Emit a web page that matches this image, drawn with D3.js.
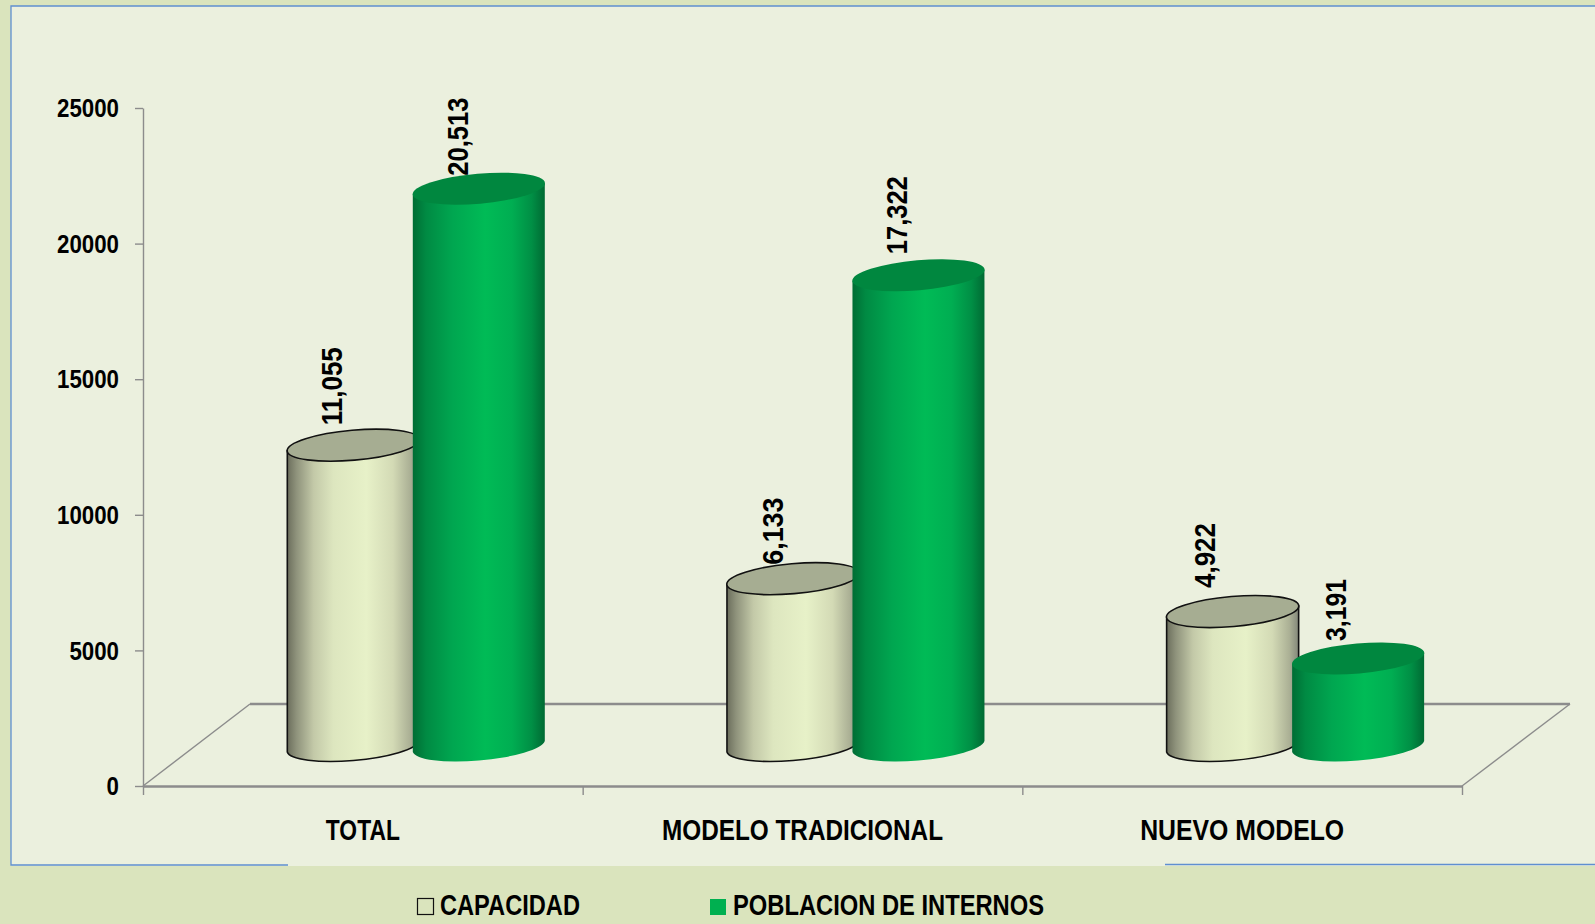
<!DOCTYPE html>
<html><head><meta charset="utf-8">
<script src="https://cdn.jsdelivr.net/npm/d3@7/dist/d3.min.js"></script>
<style>
html,body{margin:0;padding:0;background:#dae4bd;overflow:hidden}
svg{display:block}
text{font-family:"Liberation Sans Narrow","Liberation Sans",sans-serif;font-weight:700;fill:#000}
</style></head><body>
<script>
// ---- data ----
const categories = ["TOTAL", "MODELO TRADICIONAL", "NUEVO MODELO"];
const seriesNames = ["CAPACIDAD", "POBLACION DE INTERNOS"];
const capacidad = [11055, 6133, 4922];
const poblacion = [20513, 17322, 3191];
const yTicks = [0, 5000, 10000, 15000, 20000, 25000];

// ---- layout ----
const W = 1595, H = 924;
const yTop = 108, yBase = 786, xLeft = 143, xRight = 1462;
const depthX = 107, depthY = 82;           // floor parallelogram
const barBaseLift = 41;                    // bars stand mid-way on the floor
const bottomExtra = 1.5;
const barW = 132, capRx = 66.4, capRy = 15, tilt = -5, tanDy = 5.5;
const labelNudge = [[-20,-13],[-14,-21],[-23.5,-17.5]];
const labelDx = [[45,45.5],[46.5,45.5],[39,44.5]];
const labelLen = [[78,78],[67,78],[65,62]];

const svg = d3.select("body").append("svg").attr("width",W).attr("height",H);
const defs = svg.append("defs");
function grad(id, stops){
  const g = defs.append("linearGradient").attr("id",id).attr("x1",0).attr("x2",1).attr("y1",0).attr("y2",0);
  stops.forEach(([o,c])=>g.append("stop").attr("offset",o).attr("stop-color",c));
}
grad("gCap",[[0,"#6b6e5c"],[0.07,"#8f937c"],[0.2,"#c3c9a8"],[0.35,"#dde6bf"],[0.6,"#e7f1c8"],[0.8,"#d3dab5"],[0.93,"#abb095"],[1,"#83877a"]]);
grad("gPob",[[0,"#006d34"],[0.1,"#008a43"],[0.3,"#00a650"],[0.55,"#00bb56"],[0.75,"#00ae52"],[0.9,"#008f45"],[1,"#006a33"]]);

// backgrounds
svg.append("rect").attr("width",W).attr("height",H).attr("fill","#dae4bd");
svg.append("rect").attr("x",11).attr("y",6).attr("width",W-11).attr("height",860).attr("fill","#ebf0de");
const blue = "#5f8fd0";
svg.append("path").attr("fill","none").attr("stroke",blue).attr("stroke-width",1.3)
  .attr("d",d3.line()([[W,6],[11,6],[11,865],[288,865]]));
svg.append("path").attr("fill","none").attr("stroke",blue).attr("stroke-width",1.3)
  .attr("d",d3.line()([[1165,864.5],[W,864.5]]));

// scales
const y = d3.scaleLinear().domain([0,25000]).range([yBase,yTop]);
const x = d3.scaleBand().domain(categories).range([xLeft,xRight]);
const xEdge = d3.scaleLinear().domain([0,3]).range([xLeft,xRight]);
const xSeries = d3.scaleBand().domain(seriesNames).range([144.3,144.3+2*125.5]);
const grey = "#8c8c8c";

// floor
svg.append("path").attr("fill","none").attr("stroke",grey).attr("stroke-width",1.4)
  .attr("d",d3.line()([[xLeft,yBase],[xLeft+depthX,yBase-depthY]]));
svg.append("path").attr("fill","none").attr("stroke",grey).attr("stroke-width",1.4)
  .attr("d",d3.line()([[xRight,yBase],[xRight+depthX+1,yBase-depthY]]));
svg.append("line").attr("x1",xLeft+depthX).attr("x2",xRight+depthX+1).attr("y1",yBase-depthY).attr("y2",yBase-depthY)
  .attr("stroke",grey).attr("stroke-width",2.4);

// y axis
const yAxis = svg.append("g").attr("transform",`translate(${xLeft},0)`)
  .call(d3.axisLeft(y).tickValues(yTicks).tickFormat(d3.format("d")).tickSize(8).tickSizeOuter(0));
yAxis.select(".domain").attr("stroke",grey).attr("stroke-width",1.4);
yAxis.selectAll(".tick line").attr("stroke",grey).attr("stroke-width",1.4);
yAxis.selectAll(".tick text").attr("x",-24).attr("dy","0.35em")
  .attr("textLength",d=>String(d).length*12.4).attr("lengthAdjust","spacingAndGlyphs")
  .style("font-size","25px").style("font-family",'"Liberation Sans Narrow","Liberation Sans",sans-serif');

// x axis: line & ticks at category edges
const xAxisG = svg.append("g").attr("transform",`translate(0,${yBase})`)
  .call(d3.axisBottom(xEdge).tickValues([0,1,2,3]).tickFormat("").tickSize(9).tickSizeOuter(0));
xAxisG.select(".domain").attr("stroke",grey).attr("stroke-width",2.4);
xAxisG.selectAll(".tick line").attr("stroke",grey).attr("stroke-width",1.4);

// category labels
const catLen = [74,281,204];
svg.append("g").selectAll("text").data(categories).join("text")
  .attr("x",d=>x(d)+x.bandwidth()/2).attr("y",840).attr("text-anchor","middle")
  .attr("font-size",29).attr("textLength",(d,i)=>catLen[i]).attr("lengthAdjust","spacingAndGlyphs").text(d=>d);

// marks
const rows = [];
categories.forEach((c,i)=>{
  rows.push({c,i,s:0,v:capacidad[i],grad:"gCap",top:"#a6ad92",stroke:"#111"});
  rows.push({c,i,s:1,v:poblacion[i],grad:"gPob",top:"#00873f",stroke:"none"});
});
const fmt = d3.format(",");
const left = d => x(d.c)+xSeries(seriesNames[d.s]);
const topY = d => y(d.v)-barBaseLift;
const botY = y(0)-barBaseLift+bottomExtra;

// data labels sit behind the cylinders
svg.append("g").selectAll("text").data(rows).join("text")
  .attr("transform",d=>`translate(${x(d.c)+xSeries(seriesNames[d.s])+labelDx[d.i][d.s]+9.5},${topY(d)+labelNudge[d.i][d.s]}) rotate(-90)`)
  .attr("font-size",29)
  .attr("textLength",d=>labelLen[d.i][d.s]).attr("lengthAdjust","spacingAndGlyphs")
  .text(d=>fmt(d.v));

const cyl = svg.append("g").selectAll("g").data(rows).join("g");
cyl.append("path")
  .attr("fill",d=>`url(#${d.grad})`).attr("stroke",d=>d.stroke).attr("stroke-width",1.6)
  .attr("d",d=>{
    const l=left(d), r=l+barW, t=topY(d);
    return `M${l},${t+tanDy}L${l},${botY+tanDy}A${capRx},${capRy} ${tilt} 0 0 ${r},${botY-tanDy}L${r},${t-tanDy}Z`;
  });
cyl.append("ellipse")
  .attr("cx",d=>left(d)+barW/2).attr("cy",topY).attr("rx",capRx).attr("ry",capRy)
  .attr("transform",d=>`rotate(${tilt} ${left(d)+barW/2} ${topY(d)})`)
  .attr("fill",d=>d.top).attr("stroke",d=>d.stroke).attr("stroke-width",1.6);

// legend
const legX = [417,710], legTextX = [440,733], legLen = [140,311];
const legend = svg.append("g").selectAll("g").data(seriesNames).join("g");
legend.append("rect")
  .attr("x",(d,i)=>legX[i]+(i?0:.5)).attr("y",(d,i)=>i?899:898.5)
  .attr("width",16).attr("height",16)
  .attr("fill",(d,i)=>i?"#00b050":"none").attr("stroke",(d,i)=>i?"none":"#111").attr("stroke-width",1.2);
legend.append("text").attr("x",(d,i)=>legTextX[i]).attr("y",914.5)
  .attr("font-size",29).attr("textLength",(d,i)=>legLen[i]).attr("lengthAdjust","spacingAndGlyphs").text(d=>d);
</script>
</body></html>
